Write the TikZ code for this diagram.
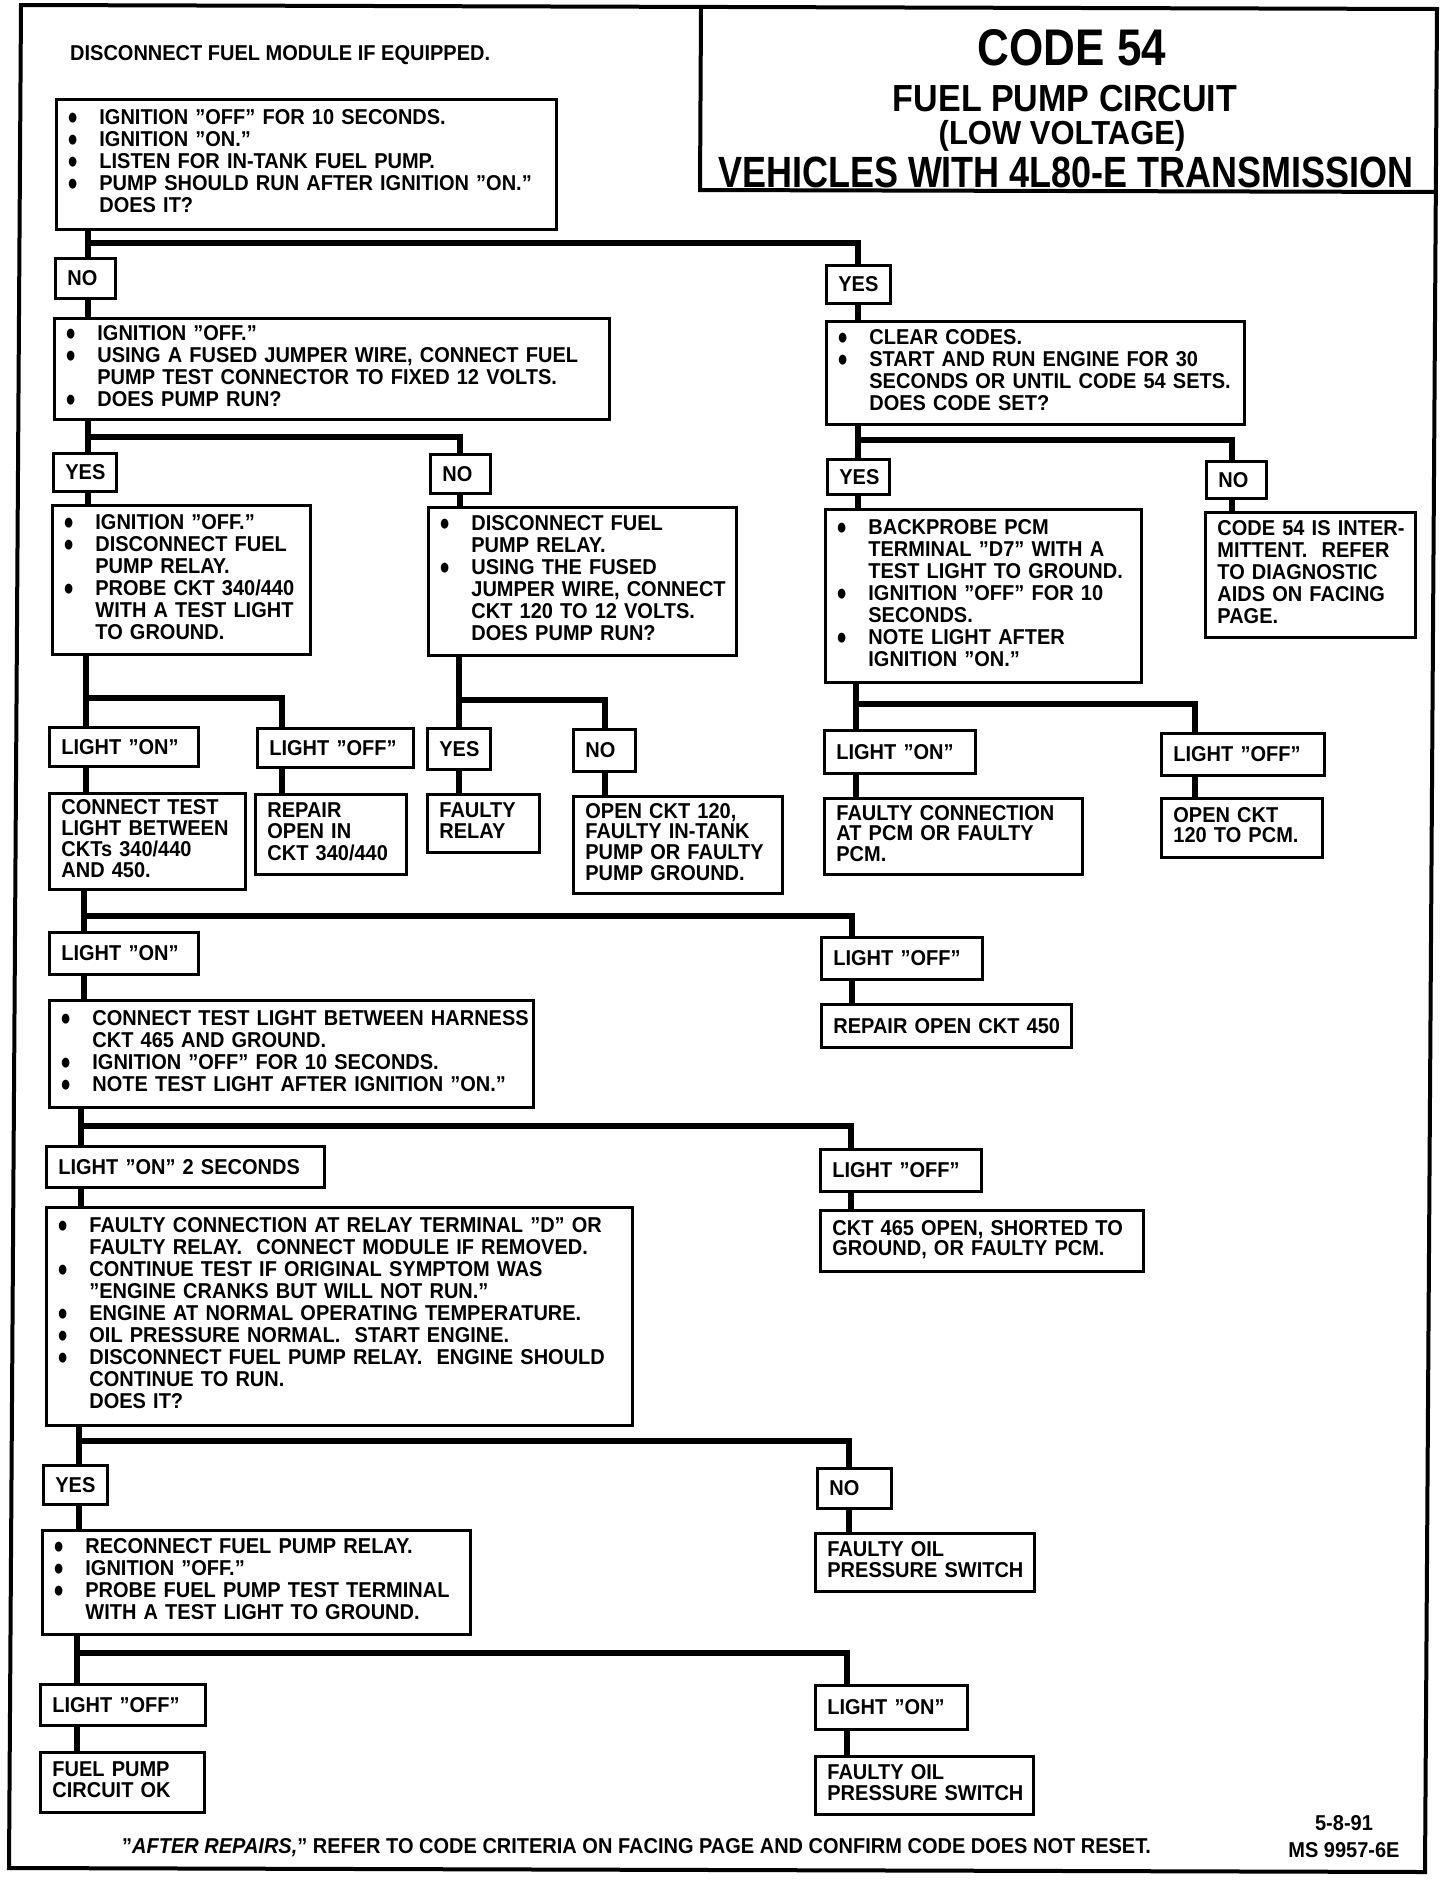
\documentclass[tikz,border=0pt]{standalone}
\usepackage{fontspec}
\setmainfont{Liberation Sans}[FakeStretch=0.93]
\newfontfamily\symfont{DejaVu Sans}
\newcommand\bodyfont{\bfseries\fontsize{21.5}{22}\selectfont}
\newcommand\tightfont{\bfseries\fontsize{21.5}{19.5}\selectfont}
\newcommand\bl{\makebox[31pt][l]{\raisebox{3.2pt}{\symfont\fontsize{10}{10}\selectfont\scalebox{1}[1.3]{●}}}}
\newcommand\ind{\hspace*{31pt}}
\newcommand\tb[1]{\begin{tabular}{@{}l@{}}#1\end{tabular}}
\tikzset{
  box/.style 2 args={draw, line width=2.8pt, anchor=north west, inner xsep=12pt, inner ysep=0pt,
    minimum width=#1, minimum height=#2,
    /utils/exec={\pgfmathsetlengthmacro\tw{#1-24pt}}, text width=\tw, align=left, font=\bodyfont},
  tight/.style={font=\tightfont},
  conn/.style={line width=6pt, line join=miter},
  frame/.style={line width=4pt, line join=miter},
  plain/.style={inner sep=0pt, font=\bodyfont},
}
\begin{document}
\begin{tikzpicture}[x=1pt,y=-1pt]
\useasboundingbox (0,0) rectangle (1456,1880);
% outer frame and title box
\draw[frame] (21,5) -- (1437,9) -- (1425,1872) -- (9,1868) -- cycle;
\draw[frame] (701,9) -- (700,190) -- (1436,192);
\node[anchor=base, inner sep=0pt, font=\bfseries\fontsize{47.3}{47}\selectfont] (t1) at (1072,65) {\scalebox{1}[1.09]{CODE 54}};
\node[anchor=base, inner sep=0pt, font=\bfseries\fontsize{36.6}{36}\selectfont] (t2) at (1065,111) {\scalebox{1}[1.03]{FUEL PUMP CIRCUIT}};
\node[anchor=base, inner sep=0pt, font=\bfseries\fontsize{33.3}{33}\selectfont] (t3) at (1062,144) {(LOW VOLTAGE)};
\node[anchor=base, inner sep=0pt, font=\bfseries\fontsize{38.7}{38}\selectfont] (t4) at (1066,187) {\scalebox{1}[1.13]{VEHICLES WITH 4L80-E TRANSMISSION}};
\node[plain, anchor=base west] (note) at (70,60) {DISCONNECT FUEL MODULE IF EQUIPPED.};

% boxes
\node[box={500}{130}] (b1) at (55,98) {\tb{\bl IGNITION "OFF" FOR 10 SECONDS.\\
\bl IGNITION "ON."\\
\bl LISTEN FOR IN-TANK FUEL PUMP.\\
\bl PUMP SHOULD RUN AFTER IGNITION "ON."\\
\ind DOES IT?}};
\node[box={60}{40}] (no1) at (54,257) {\mbox{NO}};
\node[box={64}{38}] (yes1) at (825,264) {\mbox{YES}};
\node[box={555}{101}] (b2) at (53,317) {\tb{\bl IGNITION "OFF."\\
\bl USING A FUSED JUMPER WIRE, CONNECT FUEL\\
\ind PUMP TEST CONNECTOR TO FIXED 12 VOLTS.\\
\bl DOES PUMP RUN?}};
\node[box={418}{103}] (cc) at (825,320) {\tb{\bl CLEAR CODES.\\
\bl START AND RUN ENGINE FOR 30\\
\ind SECONDS OR UNTIL CODE 54 SETS.\\
\ind DOES CODE SET?}};
\node[box={63}{38}] (yes2) at (52,452) {\mbox{YES}};
\node[box={60}{39}] (no2) at (429,453) {\mbox{NO}};
\node[box={62}{35}] (yes3) at (826,458) {\mbox{YES}};
\node[box={60}{37}] (no3) at (1205,460) {\mbox{NO}};
\node[box={258}{149}] (bA) at (51,504) {\tb{\bl IGNITION "OFF."\\
\bl DISCONNECT FUEL\\
\ind PUMP RELAY.\\
\bl PROBE CKT 340/440\\
\ind WITH A TEST LIGHT\\
\ind TO GROUND.}};
\node[box={308}{148}] (bB) at (427,506) {\tb{\bl DISCONNECT FUEL\\
\ind PUMP RELAY.\\
\bl USING THE FUSED\\
\ind JUMPER WIRE, CONNECT\\
\ind CKT 120 TO 12 VOLTS.\\
\ind DOES PUMP RUN?}};
\node[box={316}{173}] (bC) at (824,508) {\tb{\bl BACKPROBE PCM\\
\ind TERMINAL "D7" WITH A\\
\ind TEST LIGHT TO GROUND.\\
\bl IGNITION "OFF" FOR 10\\
\ind SECONDS.\\
\bl NOTE LIGHT AFTER\\
\ind IGNITION "ON."}};
\node[box={210}{125}] (bD) at (1204,511) {\tb{CODE 54 IS INTER-\\
MITTENT.\ \ REFER\\
TO DIAGNOSTIC\\
AIDS ON FACING\\
PAGE.}};
\node[box={149}{39}] (lon1) at (48,726) {\mbox{LIGHT "ON"}};
\node[box={156}{39}] (loff1) at (256,727) {\mbox{LIGHT "OFF"}};
\node[box={63}{41}] (yes4) at (426,727) {\mbox{YES}};
\node[box={62}{42}] (no4) at (572,728) {\mbox{NO}};
\node[box={151}{43}] (lon2) at (823,729) {\mbox{LIGHT "ON"}};
\node[box={163}{42}] (loff2) at (1160,732) {\mbox{LIGHT "OFF"}};
\node[box={196}{96}, tight] (r1) at (48,792) {\tb{CONNECT TEST\\ LIGHT BETWEEN\\ CKTs 340/440\\ AND 450.}};
\node[box={151}{80}, tight] (r2) at (254,793) {\tb{REPAIR\\ OPEN IN\\ CKT 340/440}};
\node[box={112}{58}, tight] (r3) at (426,793) {\tb{FAULTY\\ RELAY}};
\node[box={209}{97}, tight] (r4) at (572,795) {\tb{OPEN CKT 120,\\ FAULTY IN-TANK\\ PUMP OR FAULTY\\ PUMP GROUND.}};
\node[box={258}{76}, tight] (r5) at (823,797) {\tb{FAULTY CONNECTION\\ AT PCM OR FAULTY\\ PCM.}};
\node[box={161}{59}, tight] (r6) at (1160,797) {\tb{OPEN CKT\\ 120 TO PCM.}};
\node[box={149}{42}] (lon3) at (48,931) {\mbox{LIGHT "ON"}};
\node[box={161}{42}] (loff3) at (820,936) {\mbox{LIGHT "OFF"}};
\node[box={484}{107}] (bE) at (48,999) {\tb{\bl CONNECT TEST LIGHT BETWEEN HARNESS\\
\ind CKT 465 AND GROUND.\\
\bl IGNITION "OFF" FOR 10 SECONDS.\\
\bl NOTE TEST LIGHT AFTER IGNITION "ON."}};
\node[box={250}{43}] (r7) at (820,1003) {\mbox{REPAIR OPEN CKT 450}};
\node[box={278}{41}] (lon4) at (45,1145) {\mbox{LIGHT "ON" 2 SECONDS}};
\node[box={161}{42}] (loff4) at (819,1148) {\mbox{LIGHT "OFF"}};
\node[box={586}{218}] (bF) at (45,1206) {\tb{\bl FAULTY CONNECTION AT RELAY TERMINAL "D" OR\\
\ind FAULTY RELAY.\ \ CONNECT MODULE IF REMOVED.\\
\bl CONTINUE TEST IF ORIGINAL SYMPTOM WAS\\
\ind "ENGINE CRANKS BUT WILL NOT RUN."\\
\bl ENGINE AT NORMAL OPERATING TEMPERATURE.\\
\bl OIL PRESSURE NORMAL.\ \ START ENGINE.\\
\bl DISCONNECT FUEL PUMP RELAY.\ \ ENGINE SHOULD\\
\ind CONTINUE TO RUN.\\
\ind DOES IT?}};
\node[box={323}{61}, tight] (r8) at (819,1209) {\tb{CKT 465 OPEN, SHORTED TO\\ GROUND, OR FAULTY PCM.}};
\node[box={64}{39}] (yes5) at (42,1464) {\mbox{YES}};
\node[box={74}{40}] (no5) at (816,1467) {\mbox{NO}};
\node[box={428}{104}] (bG) at (41,1529) {\tb{\bl RECONNECT FUEL PUMP RELAY.\\
\bl IGNITION "OFF."\\
\bl PROBE FUEL PUMP TEST TERMINAL\\
\ind WITH A TEST LIGHT TO GROUND.}};
\node[box={219}{58}, tight] (r9) at (814,1532) {\tb{FAULTY OIL\\ PRESSURE SWITCH}};
\node[box={165}{41}] (loff5) at (39,1683) {\mbox{LIGHT "OFF"}};
\node[box={152}{44}] (lon5) at (814,1684) {\mbox{LIGHT "ON"}};
\node[box={164}{60}, tight] (r10) at (39,1751) {\tb{FUEL PUMP\\ CIRCUIT OK}};
\node[box={218}{58}, tight] (r11) at (814,1755) {\tb{FAULTY OIL\\ PRESSURE SWITCH}};

% footer
\node[plain, anchor=base west] (foot) at (122,1853) {"\textit{AFTER REPAIRS,}" REFER TO CODE CRITERIA ON FACING PAGE AND CONFIRM CODE DOES NOT RESET.};
\node[plain, anchor=base] (date) at (1344,1830) {5-8-91};
\node[plain, anchor=base] (ms) at (1344,1857) {MS 9957-6E};

% junction coordinates
\coordinate (j1) at (88,243);  \coordinate (k1) at (858,243);
\coordinate (j2) at (88,437);  \coordinate (k2) at (460,437);
\coordinate (j2r) at (858,440); \coordinate (k2r) at (1232,440);
\coordinate (j3a) at (86,698); \coordinate (k3a) at (282,698);
\coordinate (j3b) at (459,700); \coordinate (k3b) at (605,700);
\coordinate (j3c) at (856,704); \coordinate (k3c) at (1195,704);
\coordinate (j4) at (84,916);  \coordinate (k4) at (852,916);
\coordinate (j5) at (81,1126); \coordinate (k5) at (851,1126);
\coordinate (j6) at (79,1441); \coordinate (k6) at (849,1441);
\coordinate (j7) at (77,1653); \coordinate (k7) at (847,1653);

% connectors
\draw[conn] (b1.south -| j1) -- (no1.north -| j1);
\draw[conn] (j1) -- (k1) -- (yes1.north -| k1);
\draw[conn] (no1.south -| j1) -- (b2.north -| j1);
\draw[conn] (yes1.south -| k1) -- (cc.north -| k1);

\draw[conn] (b2.south -| j2) -- (yes2.north -| j2);
\draw[conn] (j2) -- (k2) -- (no2.north -| k2);
\draw[conn] (yes2.south -| j2) -- (bA.north -| j2);
\draw[conn] (no2.south -| k2) -- (bB.north -| k2);

\draw[conn] (cc.south -| j2r) -- (yes3.north -| j2r);
\draw[conn] (j2r) -- (k2r) -- (no3.north -| k2r);
\draw[conn] (yes3.south -| j2r) -- (bC.north -| j2r);
\draw[conn] (no3.south -| k2r) -- (bD.north -| k2r);

\draw[conn] (bA.south -| j3a) -- (lon1.north -| j3a);
\draw[conn] (j3a) -- (k3a) -- (loff1.north -| k3a);
\draw[conn] (lon1.south -| j3a) -- (r1.north -| j3a);
\draw[conn] (loff1.south -| k3a) -- (r2.north -| k3a);

\draw[conn] (bB.south -| j3b) -- (yes4.north -| j3b);
\draw[conn] (j3b) -- (k3b) -- (no4.north -| k3b);
\draw[conn] (yes4.south -| j3b) -- (r3.north -| j3b);
\draw[conn] (no4.south -| k3b) -- (r4.north -| k3b);

\draw[conn] (bC.south -| j3c) -- (lon2.north -| j3c);
\draw[conn] (j3c) -- (k3c) -- (loff2.north -| k3c);
\draw[conn] (lon2.south -| j3c) -- (r5.north -| j3c);
\draw[conn] (loff2.south -| k3c) -- (r6.north -| k3c);

\draw[conn] (r1.south -| j4) -- (lon3.north -| j4);
\draw[conn] (j4) -- (k4) -- (loff3.north -| k4);
\draw[conn] (lon3.south -| j4) -- (bE.north -| j4);
\draw[conn] (loff3.south -| k4) -- (r7.north -| k4);

\draw[conn] (bE.south -| j5) -- (lon4.north -| j5);
\draw[conn] (j5) -- (k5) -- (loff4.north -| k5);
\draw[conn] (lon4.south -| j5) -- (bF.north -| j5);
\draw[conn] (loff4.south -| k5) -- (r8.north -| k5);

\draw[conn] (bF.south -| j6) -- (yes5.north -| j6);
\draw[conn] (j6) -- (k6) -- (no5.north -| k6);
\draw[conn] (yes5.south -| j6) -- (bG.north -| j6);
\draw[conn] (no5.south -| k6) -- (r9.north -| k6);

\draw[conn] (bG.south -| j7) -- (loff5.north -| j7);
\draw[conn] (j7) -- (k7) -- (lon5.north -| k7);
\draw[conn] (loff5.south -| j7) -- (r10.north -| j7);
\draw[conn] (lon5.south -| k7) -- (r11.north -| k7);
\end{tikzpicture}
\end{document}
